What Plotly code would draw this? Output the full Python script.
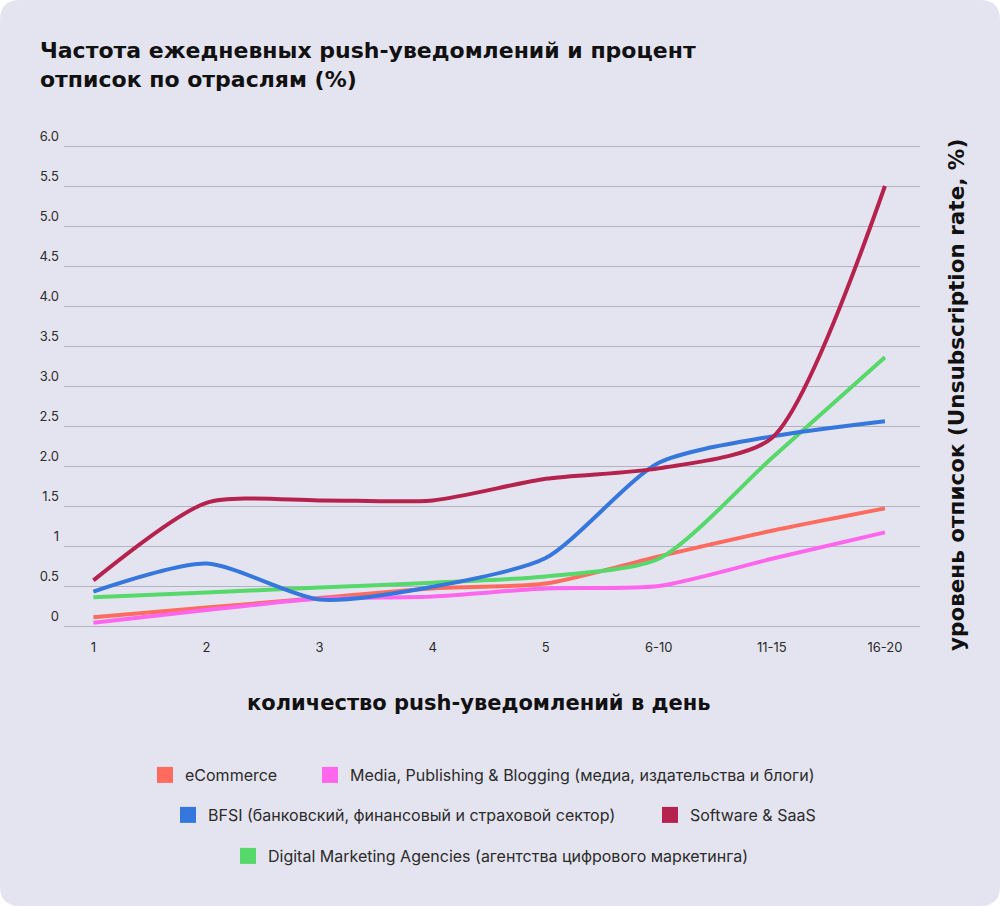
import plotly.graph_objects as go

# categories on the x axis (notifications per day)
categories = ["1", "2", "3", "4", "5", "6-10", "11-15", "16-20"]

# unsubscription rate, %
ecommerce = [0.11, 0.23, 0.35, 0.47, 0.53, 0.87, 1.19, 1.47]
media = [0.04, 0.20, 0.34, 0.37, 0.47, 0.50, 0.84, 1.17]
bfsi = [0.43, 0.78, 0.33, 0.49, 0.85, 2.04, 2.37, 2.56]
software = [0.57, 1.54, 1.57, 1.57, 1.84, 1.97, 2.35, 5.50]
agencies = [0.36, 0.42, 0.48, 0.54, 0.62, 0.84, 2.10, 3.36]

y_ticks = [0, 0.5, 1, 1.5, 2, 2.5, 3, 3.5, 4, 4.5, 5, 5.5, 6]
y_tick_labels = ["0", "0.5", "1", "1.5", "2.0", "2.5", "3.0", "3.5",
                 "4.0", "4.5", "5.0", "5.5", "6.0"]

names = {
    "ecom": "eCommerce",
    "media": "Media, Publishing & Blogging (медиа, издательства и блоги)",
    "bfsi": "BFSI (банковский, финансовый и страховой сектор)",
    "soft": "Software & SaaS",
    "agency": "Digital Marketing Agencies (агентства цифрового маркетинга)",
}
colors = {
    "ecom": "#FF6B5E",
    "media": "#FF66EE",
    "bfsi": "#3577DC",
    "soft": "#B5224D",
    "agency": "#56D86A",
}

card = "#E4E4F0"
text_dark = "#111111"
bold_font = "DejaVu Sans"

fig = go.Figure()

series = [("ecom", ecommerce), ("media", media), ("agency", agencies),
          ("bfsi", bfsi), ("soft", software)]
for key, vals in series:
    fig.add_trace(go.Scatter(
        x=categories, y=vals, mode="lines", name=names[key],
        line=dict(color=colors[key], width=4, shape="spline", smoothing=0.7),
        showlegend=False, hoverinfo="x+y+name",
    ))

W, H = 1000, 906
ml, mr, mt, mb = 64, 80, 142, 268
pw, ph = W - ml - mr, H - mt - mb

# legend entries: square swatches, one small legend per entry so the
# three rows can be placed like in the original
legend_spots = {
    "ecom": ("legend", 157, 775),
    "media": ("legend2", 322, 775),
    "bfsi": ("legend3", 180, 815),
    "soft": ("legend4", 662, 815),
    "agency": ("legend5", 240, 856),
}
for key in ["ecom", "media", "bfsi", "soft", "agency"]:
    fig.add_trace(go.Scatter(
        x=[None], y=[None], mode="markers", name=names[key],
        marker=dict(symbol="square", size=17, color=colors[key]),
        legend=legend_spots[key][0], hoverinfo="skip",
    ))


def px(x):
    return (x - ml) / pw


def py(y):
    return (H - mb - y) / ph


# rounded card behind everything
r = 20
path = (
    f"M {px(r)} {py(0)} L {px(W - r)} {py(0)} "
    f"Q {px(W)} {py(0)} {px(W)} {py(r)} "
    f"L {px(W)} {py(H - r)} Q {px(W)} {py(H)} {px(W - r)} {py(H)} "
    f"L {px(r)} {py(H)} Q {px(0)} {py(H)} {px(0)} {py(H - r)} "
    f"L {px(0)} {py(r)} Q {px(0)} {py(0)} {px(r)} {py(0)} Z"
)
fig.add_shape(type="path", path=path, xref="paper", yref="paper",
              fillcolor=card, line=dict(width=0), layer="below")

legends = {}
for key, (leg, lx, ly) in legend_spots.items():
    legends[leg] = dict(
        orientation="h", xref="container", yref="container",
        x=(lx - 12) / W, y=1 - ly / H, xanchor="left", yanchor="middle",
        bgcolor="rgba(0,0,0,0)",
        font=dict(family="Inter", size=16, color="#2b2b2b"),
    )

fig.update_layout(
    width=W, height=H,
    margin=dict(l=ml, r=mr, t=mt, b=mb),
    paper_bgcolor="white",
    plot_bgcolor="rgba(0,0,0,0)",
    title=dict(
        text="Частота ежедневных push-уведомлений и процент<br>отписок по отраслям (%)",
        x=0.04, xanchor="left", xref="container",
        y=1 - 58 / H, yanchor="top", yref="container",
        font=dict(family=bold_font, size=22, color=text_dark, weight="bold"),
    ),
    xaxis=dict(
        type="category", range=[-0.26, 7.31],
        showgrid=False, zeroline=False, showline=False, ticks="",
        tickfont=dict(family="Inter", size=13, color="#2b2b2b"),
    ),
    yaxis=dict(
        range=[-0.15, 6.05], tickvals=y_ticks, ticktext=y_tick_labels,
        showgrid=True, gridcolor="#B2B2C0", gridwidth=1,
        zeroline=False, showline=False, ticks="",
        ticklabelposition="outside top", ticklabelstandoff=4,
        tickfont=dict(family="Inter", size=13, color="#2b2b2b"),
    ),
    annotations=[
        dict(text="количество push-уведомлений в день",
             xref="paper", yref="paper", x=px(478), y=py(703),
             showarrow=False, xanchor="center", yanchor="middle",
             font=dict(family=bold_font, size=21, color=text_dark,
                       weight="bold")),
        dict(text="уровень отписок (Unsubscription rate, %)",
             xref="paper", yref="paper", x=px(956), y=py(395),
             textangle=-90, showarrow=False, xanchor="center",
             yanchor="middle",
             font=dict(family=bold_font, size=21.5, color=text_dark,
                       weight="bold")),
    ],
    **legends,
)

# the page body has a default 8px margin; drop it so the figure fills the window
fig.write_html("out.html", config={"displayModeBar": False},
               post_script="document.body.style.margin='0';")
